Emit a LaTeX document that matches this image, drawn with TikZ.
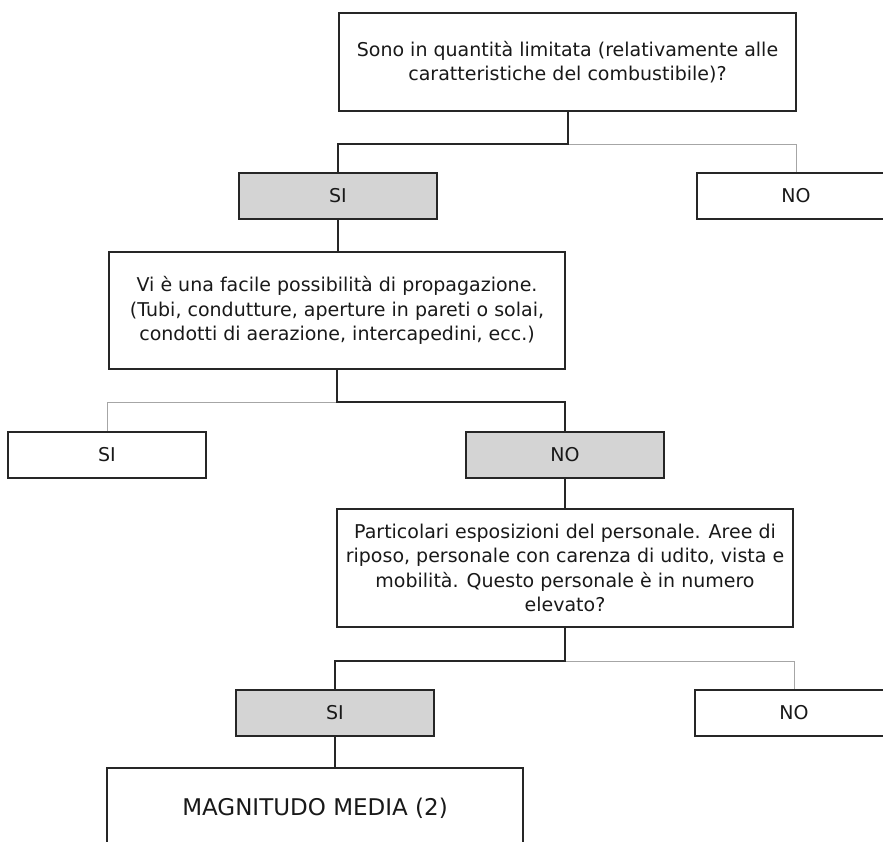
\documentclass[tikz,border=0pt]{standalone}
\usepackage{fontspec}
\setmainfont{DejaVu Sans}
\begin{document}
\begin{tikzpicture}[x=1pt,y=-1pt,
  box/.style={draw=black!85, line width=1.4pt, align=center, inner sep=0pt,
    font=\fontsize{19}{24.5}\selectfont, text=black!90},
  ans/.style={box, minimum width=198pt, minimum height=46pt},
  chosen/.style={fill=black!17},
  yes/.style={draw=black!85, line width=2pt},
  nopath/.style={draw=black!35, line width=1pt}]
\useasboundingbox (0,0) rectangle (883,841);
% nodes
\node[box, minimum width=457pt, minimum height=98pt] (top) at (567.5,62)
  {Sono in quantità limitata (relativamente alle\\caratteristiche del combustibile)?};
\node[ans, chosen] (si1) at (338,196) {SI};
\node[ans] (no1) at (796,196) {NO};
\node[box, minimum width=456pt, minimum height=117pt] (q2) at (337,310.5)
  {Vi è una facile possibilità di propagazione.\\(Tubi, condutture, aperture in pareti o solai,\\condotti di aerazione, intercapedini, ecc.)};
\node[ans] (si2) at (107,455) {SI};
\node[ans, chosen] (no2) at (565,455) {NO};
\node[box, minimum width=456pt, minimum height=118pt] (q3) at (565,568)
  {Particolari esposizioni del personale. Aree di\\riposo, personale con carenza di udito, vista e\\mobilità. Questo personale è in numero\\elevato?};
\node[ans, chosen] (si3) at (335,713) {SI};
\node[ans] (no3) at (794,713) {NO};
\node[box, minimum width=416pt, minimum height=80pt, font=\fontsize{23}{27}\selectfont] (res) at (315,808)
  {MAGNITUDO MEDIA (2)};
% junction levels
\coordinate (h1) at (0,144);
\coordinate (h2) at (0,402);
\coordinate (h3) at (0,661);
% connectors
\draw[nopath] (top.south |- h1) -| (no1.north);
\draw[yes] (top.south) -- (top.south |- h1) -| (si1.north);
\draw[yes] (si1.south) -- (si1.south |- q2.north);
\draw[nopath] (q2.south |- h2) -| (si2.north);
\draw[yes] (q2.south) -- (q2.south |- h2) -| (no2.north);
\draw[yes] (no2.south) -- (no2.south |- q3.north);
\draw[nopath] (q3.south |- h3) -| (no3.north);
\draw[yes] (q3.south) -- (q3.south |- h3) -| (si3.north);
\draw[yes] (si3.south) -- (si3.south |- res.north);
\end{tikzpicture}
\end{document}
